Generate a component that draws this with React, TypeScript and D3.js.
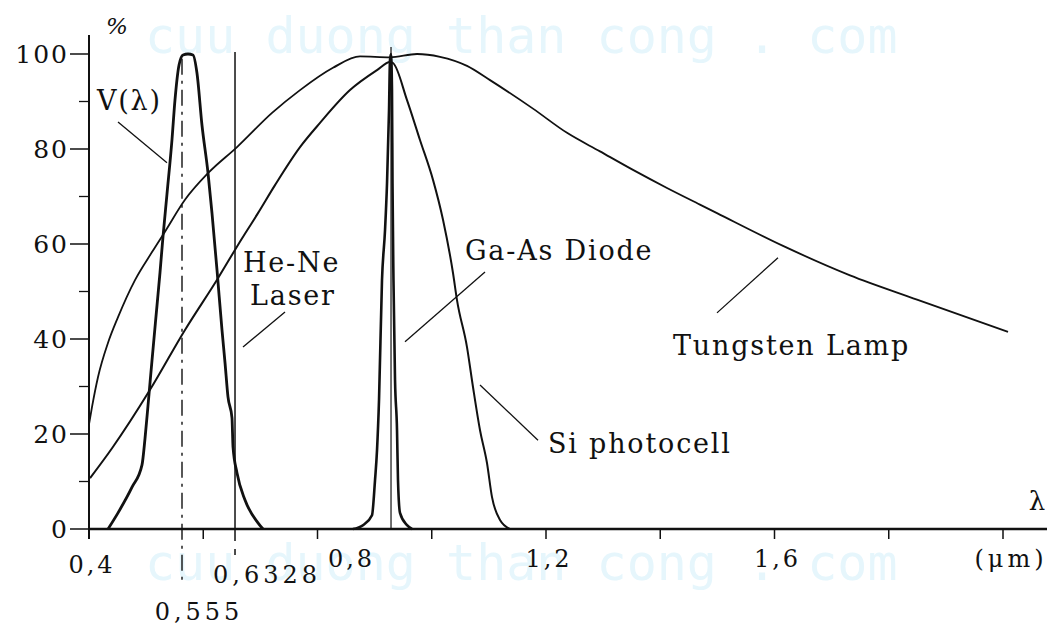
import { useEffect, useRef } from "react";
import * as d3 from "d3";

// readings taken off the scanned figure: [wavelength in um, relative %]
const tungstenLamp: [number, number][] = [
  [0.4, 22], [0.4053, 25.7], [0.4158, 32], [0.4333, 39.2], [0.4508, 44.6],
  [0.4805, 52.4], [0.5103, 58.3], [0.533, 62.6], [0.568, 69.3], [0.6083, 74.9],
  [0.6591, 80.4], [0.7204, 87.6], [0.7694, 92.4], [0.8271, 97.1], [0.8744, 99.5],
  [0.9269, 99.3], [0.9742, 100], [1.0144, 99.4], [1.0617, 97.5], [1.102, 94.5],
  [1.1772, 88.5], [1.2368, 83.4], [1.2945, 79.5], [1.3523, 75.6], [1.4118, 71.8],
  [1.4695, 68.3], [1.4993, 66.5], [1.6149, 59.6], [1.7322, 53.4], [1.8495, 48.3],
  [2.0088, 41.5],
];

const siPhotocell: [number, number][] = [
  [0.4018, 10.7], [0.4403, 17], [0.5068, 29.3], [0.568, 41.9], [0.6258, 52.8],
  [0.6608, 59.8], [0.6958, 66.5], [0.7256, 72.4], [0.7694, 80.4], [0.8044, 85.5],
  [0.8569, 92.4], [0.9042, 96.6], [0.9269, 98.3], [0.9322, 98.1], [0.9567, 90.3],
  [0.9794, 81.9], [1.0022, 73.5], [1.0197, 65.1], [1.0372, 53.9], [1.0442, 48.2],
  [1.0617, 38.3], [1.0722, 29.9], [1.0845, 20.8], [1.0967, 13.9], [1.1055, 6.7],
  [1.1195, 1.9], [1.137, 0],
];

const vLambda: [number, number][] = [
  [0.4333, 0], [0.4508, 3.4], [0.4753, 8.8], [0.4928, 13.5], [0.498, 19],
  [0.5033, 26], [0.5103, 35.5], [0.519, 47], [0.5243, 54], [0.5295, 61.5],
  [0.5365, 70.5], [0.5453, 82], [0.5505, 90.3], [0.5576, 97.7], [0.5646, 99.8],
  [0.5733, 100], [0.582, 99.8], [0.589, 96], [0.5978, 85], [0.6083, 75],
  [0.6153, 66.5], [0.6241, 54.5], [0.6328, 41.9], [0.6381, 35], [0.6433, 27.8],
  [0.6503, 23.4], [0.6521, 17.3], [0.6591, 11.8], [0.6731, 6.1], [0.6958, 1.3],
  [0.7046, 0],
];

const gaAsDiode: [number, number][] = [
  [0.8621, 0], [0.8796, 0.8], [0.8954, 2.9], [0.9007, 10.3], [0.9042, 16.6],
  [0.9077, 27.2], [0.9129, 52.4], [0.9182, 62.9], [0.9217, 72.8], [0.9252, 88.2],
  [0.9269, 98.7], [0.9287, 100], [0.9304, 92.4], [0.9313, 72.8], [0.933, 52.4],
  [0.9357, 31.4], [0.9392, 20.8], [0.9409, 10.3], [0.9444, 3.4], [0.9567, 0.8],
  [0.9654, 0],
];

const wavelengthTicks = [0.4, 0.6, 0.8, 1.0, 1.2, 1.4, 1.6, 1.8, 2.0];
const wavelengthLabels = [
  { at: 0.4, text: "0,4" },
  { at: 0.8, text: "0,8" },
  { at: 1.2, text: "1,2" },
  { at: 1.6, text: "1,6" },
  { at: 2.0, text: "(\u03bcm)" },
];
const percentTicks = [0, 20, 40, 60, 80, 100];
const percentMinorTicks = [10, 30, 50, 70, 90];

// vertical reference lines as placed in the figure
const eyePeak = { at: 0.5628, label: "0,555" };
const heNeLine = { at: 0.6556, label: "0,6328" };
const gaAsPeak = 0.9287;

// callouts: text anchor and leader line, in data units
const callouts = [
  { lines: ["V(\u03bb)"], tx: 0.414, ty: 88.2, from: [0.4508, 85.7], to: [0.5365, 77.1] },
  { lines: ["He-Ne", "Laser"], tx: 0.6696, ty: 54.1, from: [0.6696, 38.3], to: [0.7431, 45.7] },
  { lines: ["Ga-As Diode"], tx: 1.0582, ty: 56.6, from: [0.9532, 39.4], to: [1.0932, 54.1] },
  { lines: ["Si photocell"], tx: 1.2035, ty: 16, from: [1.0845, 30.3], to: [1.186, 18.7] },
  { lines: ["Tungsten Lamp"], tx: 1.4223, ty: 36.6, from: [1.4993, 45.5], to: [1.6061, 57.1] },
];

const watermark = "cuu duong than cong . com";

const width = 1053;
const height = 627;
const serif = "'DejaVu Serif', serif";

export default function App() {
  const ref = useRef<SVGSVGElement>(null);

  useEffect(() => {
    const svg = d3.select(ref.current);
    svg.selectAll("*").remove();

    const x = d3.scaleLinear().domain([0.4, 2.0]).range([89, 1003]);
    const y = d3.scaleLinear().domain([0, 100]).range([529, 54]);

    // faint watermark behind the chart
    svg.selectAll(".wm")
      .data([53, 580])
      .join("text")
      .attr("class", "wm")
      .attr("x", 145)
      .attr("y", d => d)
      .attr("font-family", "'DejaVu Sans Mono', monospace")
      .attr("font-size", 50)
      .attr("fill", "#e6f6fc")
      .text(watermark);

    const g = svg.append("g");

    // axes
    g.append("line")
      .attr("x1", x(0.4)).attr("x2", 1047)
      .attr("y1", y(0)).attr("y2", y(0))
      .attr("stroke", "#111").attr("stroke-width", 2.5);
    g.append("line")
      .attr("x1", x(0.4)).attr("x2", x(0.4))
      .attr("y1", y(0) + 10).attr("y2", y(104))
      .attr("stroke", "#111").attr("stroke-width", 2);

    g.selectAll(".ytick")
      .data(percentTicks)
      .join("line")
      .attr("x1", x(0.4) - 19).attr("x2", x(0.4))
      .attr("y1", d => y(d)).attr("y2", d => y(d))
      .attr("stroke", "#111").attr("stroke-width", 1.5);
    g.selectAll(".yminor")
      .data(percentMinorTicks)
      .join("line")
      .attr("x1", x(0.4) - 10).attr("x2", x(0.4))
      .attr("y1", d => y(d)).attr("y2", d => y(d))
      .attr("stroke", "#111").attr("stroke-width", 1.3);
    g.selectAll(".ylabel")
      .data(percentTicks)
      .join("text")
      .attr("x", 69)
      .attr("y", d => y(d) + 9)
      .attr("text-anchor", "end")
      .attr("font-family", serif)
      .attr("font-size", 25)
      .attr("letter-spacing", 2)
      .attr("fill", "#111")
      .text(d => d);

    g.append("text")
      .attr("x", 117).attr("y", 34)
      .attr("text-anchor", "middle")
      .attr("font-family", serif)
      .attr("font-style", "italic")
      .attr("font-size", 23)
      .attr("fill", "#111")
      .text("%");

    g.selectAll(".xtick")
      .data(wavelengthTicks)
      .join("line")
      .attr("x1", d => x(d)).attr("x2", d => x(d))
      .attr("y1", y(0)).attr("y2", y(0) + 10)
      .attr("stroke", "#111").attr("stroke-width", 1.5);
    g.selectAll(".xlabel")
      .data(wavelengthLabels)
      .join("text")
      .attr("x", d => x(d.at) + (d.at === 0.8 ? 34 : d.at === 2.0 ? 8 : 3))
      .attr("y", d => (d.at === 0.4 ? 573 : 567))
      .attr("text-anchor", "middle")
      .attr("font-family", serif)
      .attr("font-size", 24)
      .attr("letter-spacing", d => (d.at === 2.0 ? 4 : 3))
      .attr("fill", "#111")
      .text(d => d.text);

    g.append("text")
      .attr("x", 1037).attr("y", 510)
      .attr("text-anchor", "middle")
      .attr("font-family", serif)
      .attr("font-size", 26)
      .attr("fill", "#111")
      .text("\u03bb");

    // reference lines
    g.append("line")
      .attr("x1", x(eyePeak.at)).attr("x2", x(eyePeak.at))
      .attr("y1", y(99)).attr("y2", 583)
      .attr("stroke", "#111").attr("stroke-width", 1.4)
      .attr("stroke-dasharray", "16 6 3 6");
    g.append("text")
      .attr("x", x(eyePeak.at) + 17).attr("y", 620)
      .attr("text-anchor", "middle")
      .attr("font-family", serif)
      .attr("font-size", 24)
      .attr("letter-spacing", 4)
      .attr("fill", "#111")
      .text(eyePeak.label);

    g.append("line")
      .attr("x1", x(heNeLine.at)).attr("x2", x(heNeLine.at))
      .attr("y1", y(100.4)).attr("y2", y(0))
      .attr("stroke", "#111").attr("stroke-width", 1.5);
    g.append("line")
      .attr("x1", x(heNeLine.at)).attr("x2", x(heNeLine.at))
      .attr("y1", y(0)).attr("y2", 560)
      .attr("stroke", "#111").attr("stroke-width", 1.5)
      .attr("stroke-dasharray", "12 8 6 8");
    g.append("text")
      .attr("x", x(heNeLine.at) + 32).attr("y", 583)
      .attr("text-anchor", "middle")
      .attr("font-family", serif)
      .attr("font-size", 24)
      .attr("letter-spacing", 4)
      .attr("fill", "#111")
      .text(heNeLine.label);

    g.append("line")
      .attr("x1", x(gaAsPeak)).attr("x2", x(gaAsPeak))
      .attr("y1", y(101.5)).attr("y2", y(0))
      .attr("stroke", "#111").attr("stroke-width", 1.2);

    // spectral curves
    const line = d3.line<[number, number]>()
      .x(d => x(d[0]))
      .y(d => y(d[1]))
      .curve(d3.curveMonotoneX);

    const series = [
      { data: tungstenLamp, w: 1.8 },
      { data: siPhotocell, w: 2 },
      { data: vLambda, w: 2.8 },
      { data: gaAsDiode, w: 2.6 },
    ];
    g.selectAll(".curve")
      .data(series)
      .join("path")
      .attr("class", "curve")
      .attr("d", d => line(d.data))
      .attr("fill", "none")
      .attr("stroke", "#111")
      .attr("stroke-width", d => d.w)
      .attr("stroke-linejoin", "round");

    // callouts
    g.selectAll(".leader")
      .data(callouts)
      .join("line")
      .attr("x1", d => x(d.from[0])).attr("y1", d => y(d.from[1]))
      .attr("x2", d => x(d.to[0])).attr("y2", d => y(d.to[1]))
      .attr("stroke", "#111").attr("stroke-width", 1.3);

    callouts.forEach(c => {
      c.lines.forEach((t, i) => {
        g.append("text")
          .attr("x", x(c.tx) + (i === 1 ? 7 : 0))
          .attr("y", y(c.ty) + i * 33)
          .attr("font-family", serif)
          .attr("font-size", 27)
          .attr("letter-spacing", 1.8)
          .attr("fill", "#111")
          .text(t);
      });
    });
  }, []);

  return (
    <svg
      ref={ref}
      width={width}
      height={height}
      style={{ position: "absolute", left: 0, top: 0, background: "#fff" }}
    />
  );
}
